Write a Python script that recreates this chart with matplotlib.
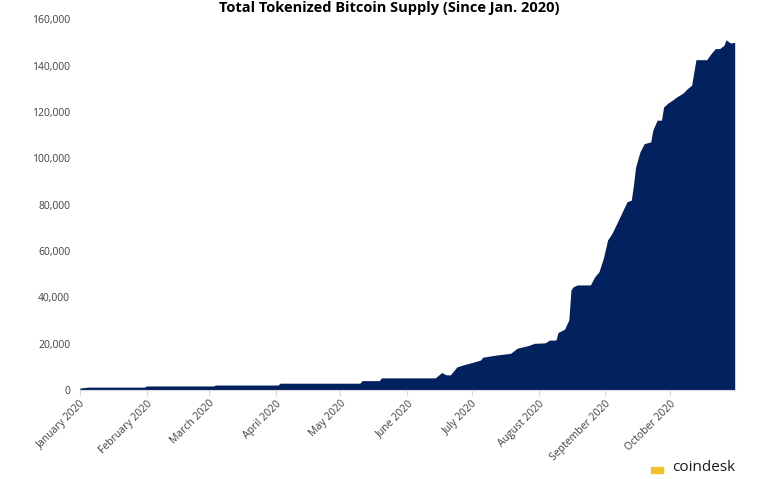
import matplotlib
matplotlib.use("Agg")
import matplotlib.pyplot as plt
import matplotlib.dates as mdates
from matplotlib.ticker import FuncFormatter
import pandas as pd

dates = [
    "2020-01-01", "2020-01-05", "2020-01-31", "2020-02-01", "2020-03-03", "2020-03-04",
    "2020-04-02", "2020-04-03", "2020-05-10", "2020-05-11", "2020-05-19", "2020-05-20",
    "2020-06-14", "2020-06-17", "2020-06-19", "2020-06-21", "2020-06-24", "2020-06-27",
    "2020-07-01", "2020-07-05", "2020-07-06", "2020-07-12", "2020-07-19", "2020-07-22",
    "2020-07-27", "2020-07-30", "2020-08-04", "2020-08-06", "2020-08-09", "2020-08-10",
    "2020-08-13", "2020-08-15", "2020-08-16", "2020-08-17", "2020-08-19", "2020-08-25",
    "2020-08-27", "2020-08-29", "2020-08-31", "2020-09-02", "2020-09-04", "2020-09-07",
    "2020-09-11", "2020-09-13", "2020-09-14", "2020-09-15", "2020-09-17", "2020-09-19",
    "2020-09-22", "2020-09-23", "2020-09-25", "2020-09-27", "2020-09-28", "2020-09-30",
    "2020-10-02", "2020-10-04", "2020-10-07", "2020-10-09", "2020-10-11", "2020-10-13",
    "2020-10-18", "2020-10-20", "2020-10-22", "2020-10-24", "2020-10-26", "2020-10-27",
    "2020-10-29", "2020-10-31",
]
supply = [
    800, 1200, 1200, 1700, 1700, 2100,
    2100, 2900, 2900, 4000, 4000, 5200,
    5200, 7500, 6500, 6500, 9900, 10800,
    11800, 12900, 14100, 15000, 15800, 18000,
    19100, 20100, 20300, 21500, 21500, 24800,
    26200, 30200, 43100, 44500, 45300, 45300,
    48800, 51000, 56800, 64700, 67500, 73300,
    81200, 81900, 88400, 96200, 102700, 106300,
    107000, 112100, 116400, 116400, 122100, 123800,
    125000, 126400, 128100, 130000, 131500, 142500,
    142500, 145100, 147300, 147300, 148700, 151100,
    149700, 150000,
]

x = pd.to_datetime(dates)

fig = plt.figure(figsize=(7.75, 4.79), dpi=100)
ax = fig.add_axes([0.103, 0.186, 0.845, 0.774])
ax.fill_between(x, 0, supply, color="#02215f", lw=0)

ax.set_xlim(pd.Timestamp("2020-01-01"), pd.Timestamp("2020-10-31"))
ax.set_ylim(0, 160000)
ax.set_yticks(range(0, 160001, 20000))
ax.yaxis.set_major_formatter(FuncFormatter(lambda v, p: f"{int(v):,}"))

ax.xaxis.set_major_locator(mdates.MonthLocator())
ax.xaxis.set_major_formatter(mdates.DateFormatter("%B %Y"))

for s in ["top", "right", "left"]:
    ax.spines[s].set_visible(False)
ax.spines["bottom"].set_color("#d9d9d9")
ax.tick_params(axis="y", length=0, pad=7, labelsize=7.5, labelcolor="#404040")
ax.tick_params(axis="x", length=4, color="#d9d9d9", pad=2, labelsize=7.5, labelcolor="#404040")
for lab in ax.get_yticklabels() + ax.get_xticklabels():
    lab.set_fontfamily("Open Sans")
for lab in ax.get_xticklabels():
    lab.set_rotation(45)
    lab.set_ha("right")
    lab.set_rotation_mode("anchor")

fig.text(0.502, 0.998, "Total Tokenized Bitcoin Supply (Since Jan. 2020)", ha="center",
         va="top", fontsize=10.5, fontweight="bold", family="Open Sans", color="#000000")

# coindesk logo at the bottom right
fig.text(0.867, 0.008, "coindesk", fontsize=11, family="Open Sans", color="#1a1a1a", va="bottom")
fig.patches.append(plt.Rectangle((0.840, 0.012), 0.016, 0.014, transform=fig.transFigure,
                                 color="#f5c02c", figure=fig))

fig.savefig("out.png", dpi=100)
